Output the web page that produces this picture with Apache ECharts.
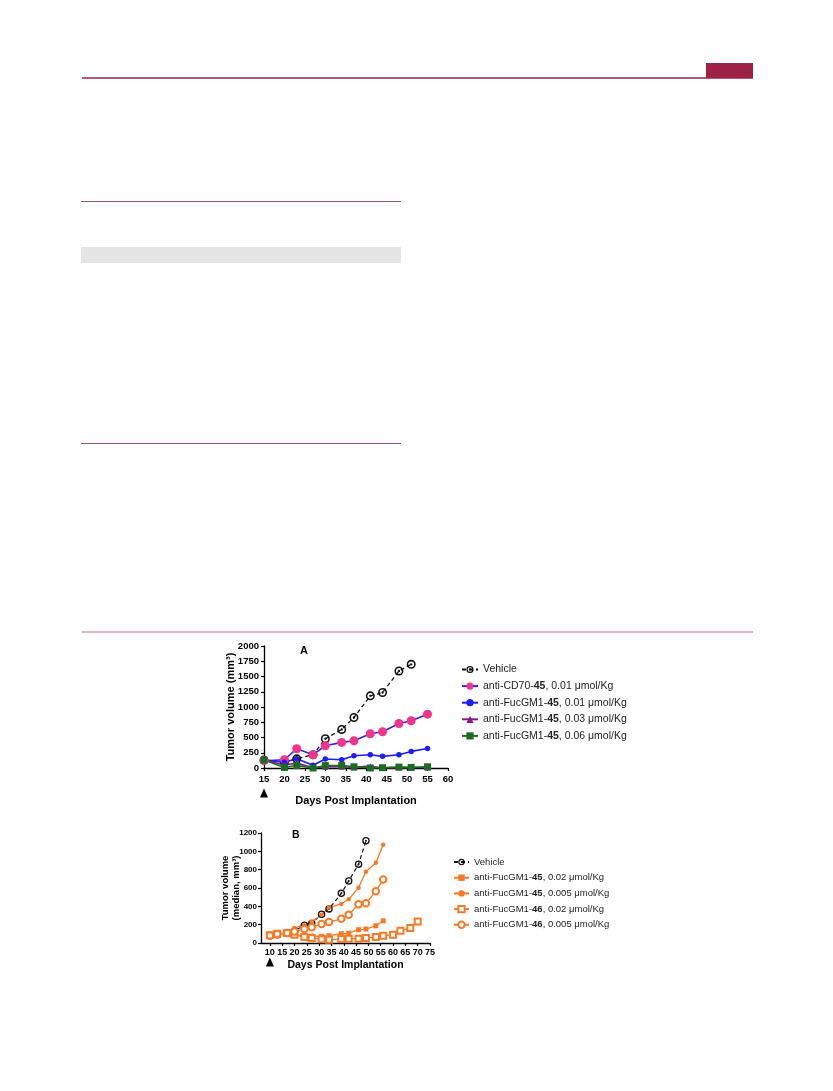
<!DOCTYPE html>
<html><head><meta charset="utf-8">
<script src="https://cdn.jsdelivr.net/npm/echarts@6/dist/echarts.min.js"></script>
<style>html,body{margin:0;padding:0;background:#fff}#c{width:833px;height:1091px}</style>
</head><body><div id="c"></div>
<script>
// ---- Panel A data ----
const daysA = [15, 20, 23, 27, 30, 34, 37, 41, 44, 48, 51, 55];
const vehicleA = [130, 100, 150, 218, 480, 632, 828, 1183, 1237, 1591, 1700];
const cd70A = [120, 136, 316, 218, 365, 420, 447, 561, 594, 730, 774, 883];
const fuc001A = [130, 93, 153, 44, 147, 136, 202, 218, 191, 218, 272, 321];
const fuc003A = [130, 50, 80, 5, 20, 20, 10, 30, 5, 10, 5, 10];
const fuc006A = [130, 10, 40, 0, 40, 40, 20, 0, 5, 15, 10, 20];
const namesA = ['Vehicle', 'anti-CD70-45, 0.01 μmol/Kg', 'anti-FucGM1-45, 0.01 μmol/Kg', 'anti-FucGM1-45, 0.03 μmol/Kg', 'anti-FucGM1-45, 0.06 μmol/Kg'];

// ---- Panel B data ----
const daysB = [10, 13, 17, 20, 24, 27, 31, 34, 39, 42, 46, 49, 53, 56, 60, 63, 67, 70];
const vehicleB = [78, 90, 110, 130, 195, 213, 315, 372, 542, 676, 860, 1115];
const fuc45_002B = [90, 100, 105, 95, 72, 76, 72, 80, 101, 108, 145, 152, 188, 242];
const fuc45_0005B = [80, 95, 110, 163, 199, 235, 307, 387, 426, 477, 604, 777, 875, 1073];
const fuc46_002B = [85, 100, 108, 90, 65, 54, 40, 36, 43, 47, 47, 54, 65, 80, 90, 134, 163, 235];
const fuc46_0005B = [83, 98, 108, 126, 152, 173, 206, 228, 264, 307, 423, 434, 564, 694];
const namesB = ['Vehicle ', 'anti-FucGM1-45, 0.02 μmol/Kg', 'anti-FucGM1-45, 0.005 μmol/Kg', 'anti-FucGM1-46, 0.02 μmol/Kg', 'anti-FucGM1-46, 0.005 μmol/Kg'];
const xTicksB = [10, 15, 20, 25, 30, 35, 40, 45, 50, 55, 60, 65, 70, 75];

const FONT = '"Liberation Sans", Arial, sans-serif';
const ORANGE = '#f57a28';
const RING_DOT = 'path://M0,-10A10,10 0 1,1 0,10A10,10 0 1,1 0,-10Z M0,-6.5A6.5,6.5 0 1,0 0,6.5A6.5,6.5 0 1,0 0,-6.5Z M0,-2.6A2.6,2.6 0 1,1 0,2.6A2.6,2.6 0 1,1 0,-2.6Z';

function pairs(days, vals) { return vals.map((v, i) => [days[i], v]); }
function legendFmt(n) { return n.trim().replace(/-(4[56]),/, '-{b|$1},'); }
const plain = v => String(v);

const chart = echarts.init(document.getElementById('c'), null, { renderer: 'canvas' });

const axisCommon = {
  axisLine: { show: true, lineStyle: { color: '#000', width: 1.3 } },
  axisTick: { show: true, length: 3, lineStyle: { color: '#000', width: 1.2 } },
  splitLine: { show: false },
  axisLabel: { color: '#000', fontFamily: FONT, fontWeight: 'bold', fontSize: 9.5, formatter: plain },
  nameTextStyle: { color: '#000', fontFamily: FONT, fontWeight: 'bold', fontSize: 11 },
  nameMoveOverlap: false
};

const option = {
  animation: false,
  backgroundColor: '#fff',
  title: [
    { text: 'A', left: 295, top: 640, textStyle: { fontFamily: FONT, fontWeight: 'bold', fontSize: 11, color: '#000' } },
    { text: 'B', left: 287, top: 825, textStyle: { fontFamily: FONT, fontWeight: 'bold', fontSize: 10.5, color: '#000' } }
  ],
  graphic: [
    { type: 'line', shape: { x1: 82, y1: 78, x2: 753, y2: 78 }, style: { stroke: '#9e2146', lineWidth: 1.6 } },
    { type: 'rect', shape: { x: 706, y: 63, width: 47, height: 15 }, style: { fill: '#9e2146' } },
    { type: 'line', shape: { x1: 81, y1: 201.5, x2: 401, y2: 201.5 }, style: { stroke: '#a0506e', lineWidth: 1 } },
    { type: 'rect', shape: { x: 81, y: 247, width: 320, height: 16 }, style: { fill: '#e5e5e5' } },
    { type: 'line', shape: { x1: 81, y1: 443.5, x2: 401, y2: 443.5 }, style: { stroke: '#a0506e', lineWidth: 1 } },
    { type: 'line', shape: { x1: 82, y1: 632, x2: 753, y2: 632 }, style: { stroke: '#dd9ab2', lineWidth: 1.4 } }
  ],
  legend: [
    {
      data: namesA, orient: 'vertical', left: 456, top: 659,
      itemWidth: 16, itemHeight: 9, itemGap: 5.6,
      formatter: legendFmt,
      textStyle: { fontFamily: FONT, fontSize: 10.5, color: '#222',
        rich: { b: { fontFamily: FONT, fontSize: 10.5, fontWeight: 'bold', color: '#222' } } }
    },
    {
      data: namesB, orient: 'vertical', left: 448, top: 852,
      itemWidth: 15, itemHeight: 8, itemGap: 5.7,
      formatter: legendFmt,
      textStyle: { fontFamily: FONT, fontSize: 9.5, color: '#222',
        rich: { b: { fontFamily: FONT, fontSize: 9.5, fontWeight: 'bold', color: '#222' } } }
    }
  ],
  grid: [
    { left: 264, top: 646, width: 184, height: 122 },
    { left: 261, top: 833, width: 169, height: 110 }
  ],
  xAxis: [
    Object.assign({}, axisCommon, {
      gridIndex: 0, type: 'value', min: 15, max: 60, interval: 5,
      name: 'Days Post Implantation', nameLocation: 'middle', nameGap: 27,
      axisLabel: Object.assign({}, axisCommon.axisLabel, { margin: 6 })
    }),
    Object.assign({}, axisCommon, {
      gridIndex: 1, type: 'value', min: 6.4, max: 75,
      name: 'Days Post Implantation', nameLocation: 'middle', nameGap: 17,
      nameTextStyle: Object.assign({}, axisCommon.nameTextStyle, { fontSize: 10.5 }),
      axisTick: Object.assign({}, axisCommon.axisTick, { customValues: xTicksB }),
      axisLabel: Object.assign({}, axisCommon.axisLabel, { customValues: xTicksB, fontSize: 9, margin: 5 })
    })
  ],
  yAxis: [
    Object.assign({}, axisCommon, {
      gridIndex: 0, type: 'value', min: 0, max: 2000, interval: 250,
      name: 'Tumor volume (mm³)', nameLocation: 'middle', nameGap: 28,
      axisLabel: Object.assign({}, axisCommon.axisLabel, { fontSize: 9.5, margin: 5 })
    }),
    Object.assign({}, axisCommon, {
      gridIndex: 1, type: 'value', min: 0, max: 1200, interval: 200,
      name: 'Tumor volume\n(median, mm³)', nameLocation: 'middle', nameGap: 19,
      nameTextStyle: Object.assign({}, axisCommon.nameTextStyle, { fontSize: 9.5, lineHeight: 11 }),
      axisLabel: Object.assign({}, axisCommon.axisLabel, { fontSize: 8, margin: 4 })
    })
  ],
  series: [
    // Panel A
    { name: namesA[0], type: 'line', xAxisIndex: 0, yAxisIndex: 0, data: pairs(daysA, vehicleA),
      symbol: RING_DOT, symbolSize: 9, itemStyle: { color: '#111' },
      lineStyle: { color: '#111', width: 1.3, type: [4, 3] },
      markPoint: { symbol: 'triangle', symbolSize: [8, 9], symbolOffset: [0, 25], silent: true,
        itemStyle: { color: '#000' }, label: { show: false }, data: [{ coord: [15, 0] }] } },
    { name: namesA[1], type: 'line', xAxisIndex: 0, yAxisIndex: 0, data: pairs(daysA, cd70A),
      symbol: 'circle', symbolSize: 9, itemStyle: { color: '#f2358a' },
      lineStyle: { color: '#2626f0', width: 1.6 } },
    { name: namesA[2], type: 'line', xAxisIndex: 0, yAxisIndex: 0, data: pairs(daysA, fuc001A),
      symbol: 'circle', symbolSize: 5.5, itemStyle: { color: '#1c1cf5' },
      lineStyle: { color: '#1c1cf5', width: 1.6 } },
    { name: namesA[3], type: 'line', xAxisIndex: 0, yAxisIndex: 0, data: pairs(daysA, fuc003A),
      symbol: 'triangle', symbolSize: 6, itemStyle: { color: '#8a1a86' },
      lineStyle: { color: '#8a1a86', width: 1.6 } },
    { name: namesA[4], type: 'line', xAxisIndex: 0, yAxisIndex: 0, data: pairs(daysA, fuc006A),
      symbol: 'rect', symbolSize: 7, itemStyle: { color: '#1d6a22' },
      lineStyle: { color: '#1d6a22', width: 1.6 } },
    // Panel B
    { name: namesB[0], type: 'line', xAxisIndex: 1, yAxisIndex: 1, data: pairs(daysB, vehicleB),
      symbol: RING_DOT, symbolSize: 7.5, itemStyle: { color: '#111' }, z: 3,
      lineStyle: { color: '#111', width: 1.2, type: [4, 3] },
      markPoint: { symbol: 'triangle', symbolSize: [8, 9], symbolOffset: [0, 19], silent: true,
        itemStyle: { color: '#000' }, label: { show: false }, data: [{ coord: [10, 0] }] } },
    { name: namesB[1], type: 'line', xAxisIndex: 1, yAxisIndex: 1, data: pairs(daysB, fuc45_002B),
      symbol: 'rect', symbolSize: 5, itemStyle: { color: ORANGE }, lineStyle: { color: ORANGE, width: 1.3 } },
    { name: namesB[2], type: 'line', xAxisIndex: 1, yAxisIndex: 1, data: pairs(daysB, fuc45_0005B),
      symbol: 'circle', symbolSize: 4.5, itemStyle: { color: ORANGE }, lineStyle: { color: ORANGE, width: 1.3 } },
    { name: namesB[3], type: 'line', xAxisIndex: 1, yAxisIndex: 1, data: pairs(daysB, fuc46_002B),
      symbol: 'emptyRect', symbolSize: 6, itemStyle: { color: ORANGE, borderWidth: 1.4 }, lineStyle: { color: ORANGE, width: 1.3 } },
    { name: namesB[4], type: 'line', xAxisIndex: 1, yAxisIndex: 1, data: pairs(daysB, fuc46_0005B),
      symbol: 'emptyCircle', symbolSize: 6.5, itemStyle: { color: ORANGE, borderWidth: 1.4 }, lineStyle: { color: ORANGE, width: 1.3 } }
  ]
};
chart.setOption(option);
</script>
</body></html>
